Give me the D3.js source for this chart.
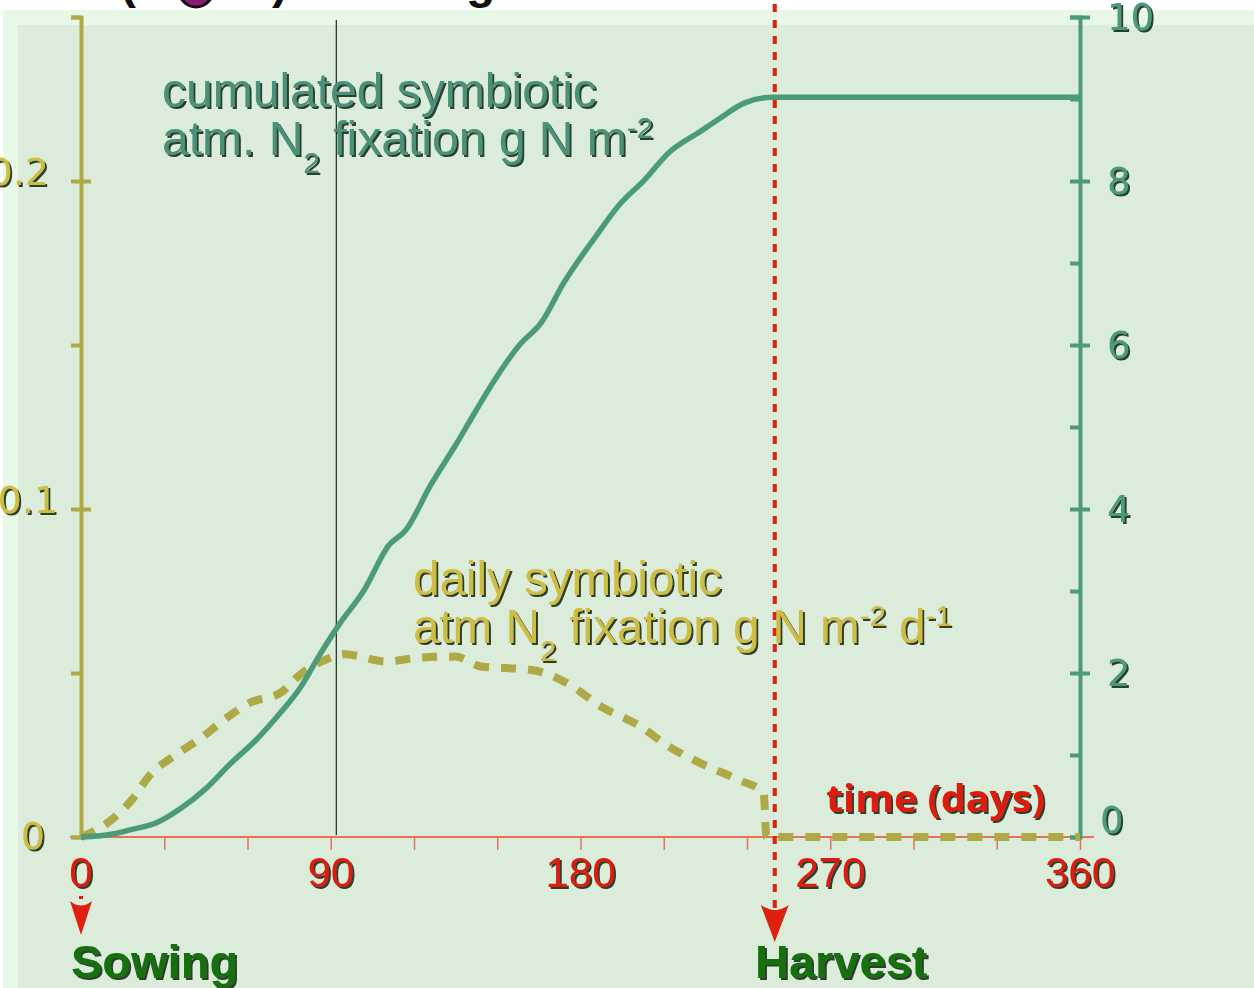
<!DOCTYPE html>
<html>
<head>
<meta charset="utf-8">
<script src="https://d3js.org/d3.v7.min.js"></script>
<style>
  body { margin: 0; background: #fff; }
  svg { display: block; }
</style>
</head>
<body>
<div id="chart-area"></div>
<script>
// cumulated symbiotic N2 fixation (g N m-2), right axis
var cumDays = [0, 12, 18, 27, 36, 45, 54, 63, 72, 79, 86, 93, 102, 111, 117, 126, 135, 142, 149, 158, 166, 174, 185, 194, 203, 212, 223, 230, 239, 249, 360];
var cumValues = [0, 0.04, 0.09, 0.17, 0.35, 0.59, 0.9, 1.18, 1.52, 1.82, 2.22, 2.59, 3.01, 3.56, 3.74, 4.29, 4.78, 5.18, 5.57, 6.0, 6.28, 6.76, 7.3, 7.71, 8.01, 8.35, 8.6, 8.76, 8.95, 9.02, 9.02];

// daily symbiotic N2 fixation (g N m-2 d-1), left axis
var dailyDays = [0, 10, 18, 25, 34, 43, 52, 61, 72, 79, 88, 95, 110, 122, 135, 144, 162, 176, 187, 201, 212, 223, 237, 246, 247, 360];
var dailyValues = [0, 0.0046, 0.011, 0.019, 0.025, 0.030, 0.036, 0.041, 0.044, 0.0495, 0.054, 0.0557, 0.0535, 0.0547, 0.055, 0.052, 0.051, 0.0465, 0.040, 0.034, 0.0275, 0.0226, 0.0174, 0.0135, 0, 0];

var xLabels = [0, 90, 180, 270, 360];
var xMinor = [30, 60, 90, 120, 150, 180, 210, 240, 270, 300, 330, 360];
var leftLabels = [0, 0.1, 0.2];
var leftTicks = [0, 0.05, 0.1, 0.15, 0.2, 0.25];
var rightLabels = [0, 2, 4, 6, 8, 10];
var rightTicks = [0, 1, 2, 3, 4, 5, 6, 7, 8, 9, 10];
var sowingDay = 0, harvestDay = 250, markerDay = 92;

var W = 1254, H = 988;
var svg = d3.select("#chart-area").append("svg")
    .attr("width", W)
    .attr("height", H);

var defs = svg.append("defs");
var f = defs.append("filter").attr("id", "shadow")
    .attr("x", "-10%").attr("y", "-10%").attr("width", "130%").attr("height", "140%");
f.append("feDropShadow")
    .attr("dx", 2).attr("dy", 2).attr("stdDeviation", 0.6)
    .attr("flood-color", "#0c1a0c").attr("flood-opacity", 0.85);

// backgrounds
svg.append("rect").attr("x", 3).attr("y", 10).attr("width", W).attr("height", H)
    .attr("fill", "#e7f8e6");
svg.append("rect").attr("x", 18).attr("y", 25).attr("width", W).attr("height", H)
    .attr("fill", "#dbedda");

// cut-off title at the top (only its lower edge shows)
var title = svg.append("g").attr("font-family", "Liberation Sans, Arial, sans-serif")
    .attr("font-size", 48).attr("font-weight", "bold").attr("fill", "#111");
title.append("text").attr("x", 120).attr("y", -2).text("(");
title.append("text").attr("x", 272).attr("y", -2).text(")");
title.append("text").attr("x", 466).attr("y", -2).text("g");
svg.append("circle").attr("cx", 196).attr("cy", -10).attr("r", 17)
    .attr("fill", "#8a1a78").attr("stroke", "#111").attr("stroke-width", 3);
// keep the panel edge above the title remnants
svg.append("rect").attr("x", 3).attr("y", 10).attr("width", W).attr("height", 15)
    .attr("fill", "#e7f8e6");

var x = d3.scaleLinear().domain([0, 360]).range([81, 1080]);
var yL = d3.scaleLinear().domain([0, 0.25]).range([837, 17]);
var yR = d3.scaleLinear().domain([0, 10]).range([837, 17]);

// thin black vertical marker
svg.append("line")
    .attr("x1", x(markerDay)).attr("x2", x(markerDay))
    .attr("y1", 20).attr("y2", 835)
    .attr("stroke", "#1a2a1a").attr("stroke-width", 1.2);

// x axis
var xAxis = d3.axisBottom(x).tickValues(xMinor).tickSize(12).tickFormat("");
var gx = svg.append("g").attr("transform", "translate(0,838)").call(xAxis);
gx.select(".domain").remove();
gx.selectAll(".tick line").attr("stroke", "#e8705e").attr("stroke-width", 1.5);
svg.append("line")
    .attr("x1", x(-4)).attr("x2", x(365))
    .attr("y1", 837).attr("y2", 837)
    .attr("stroke", "#e8705e").attr("stroke-width", 2);
svg.selectAll(".xlab").data(xLabels).enter().append("text")
    .attr("class", "xlab")
    .attr("x", (d) => x(d))
    .attr("y", 887)
    .attr("text-anchor", "middle")
    .attr("font-family", "Liberation Sans, Arial, sans-serif")
    .attr("font-size", 42)
    .attr("fill", "#dd1a0a")
    .attr("filter", "url(#shadow)")
    .text((d) => d);

// left axis
var leftAxis = d3.axisLeft(yL).tickValues(leftTicks).tickSize(10).tickFormat("");
var gl = svg.append("g").attr("transform", "translate(81,0)").call(leftAxis);
gl.select(".domain").attr("stroke", "#aea846").attr("stroke-width", 4);
gl.selectAll(".tick line").attr("stroke", "#aea846").attr("stroke-width", 4)
    .attr("x2", -10)
    .attr("x1", (d) => leftLabels.indexOf(d) >= 0 && d > 0 ? 10 : 0);
svg.selectAll(".llab").data(leftLabels).enter().append("text")
    .attr("class", "llab")
    .attr("x", (d) => d === 0 ? 45 : (d === 0.2 ? 49 : 58))
    .attr("y", (d) => yL(d) + (d === 0 ? 12 : 4))
    .attr("text-anchor", "end")
    .attr("font-family", "DejaVu Sans, sans-serif")
    .attr("font-size", 38)
    .attr("fill", "#cdbd45")
    .attr("filter", "url(#shadow)")
    .text((d) => d);

// right axis
var rightAxis = d3.axisLeft(yR).tickValues(rightTicks).tickSize(10).tickFormat("");
var gr = svg.append("g").attr("transform", "translate(1080,0)").call(rightAxis);
gr.select(".domain").attr("stroke", "#4b9a7a").attr("stroke-width", 4);
gr.selectAll(".tick line").attr("stroke", "#4b9a7a").attr("stroke-width", 4)
    .attr("x2", -10)
    .attr("x1", (d) => d % 2 === 0 && d > 0 ? 10 : 0);
svg.selectAll(".rlab").data(rightLabels).enter().append("text")
    .attr("class", "rlab")
    .attr("x", (d) => d === 0 ? 1100 : 1107)
    .attr("y", (d) => d === 0 ? yR(d) - 4 : yR(d) + 13)
    .attr("font-family", "DejaVu Sans, sans-serif")
    .attr("font-size", 37)
    .attr("fill", "#4b9a7a")
    .attr("filter", "url(#shadow)")
    .text((d) => d);

// daily dashed line
var dailyLine = d3.line()
    .x((d, i) => x(dailyDays[i]))
    .y((d) => yL(d))
    .curve(d3.curveMonotoneX);
svg.append("path")
    .attr("d", dailyLine(dailyValues))
    .attr("fill", "none")
    .attr("stroke", "#aea846")
    .attr("stroke-width", 8)
    .attr("stroke-dasharray", "15,12");

// cumulative line
var cumLine = d3.line()
    .x((d, i) => x(cumDays[i]))
    .y((d) => yR(d))
    .curve(d3.curveMonotoneX);
svg.append("path")
    .attr("d", cumLine(cumValues))
    .attr("fill", "none")
    .attr("stroke", "#4b9a7a")
    .attr("stroke-width", 5.5);

// harvest dotted line + arrows
var hx = x(harvestDay);
svg.append("line")
    .attr("x1", hx).attr("x2", hx)
    .attr("y1", 4).attr("y2", 910)
    .attr("stroke", "#e0200e").attr("stroke-width", 4)
    .attr("stroke-dasharray", "8,8");
svg.append("path")
    .attr("d", `M${hx - 14},905 Q${hx},915 ${hx + 14},905 L${hx},942 Z`)
    .attr("fill", "#e0200e");
var sx = x(sowingDay);
svg.append("rect").attr("x", sx - 2).attr("y", 896).attr("width", 4).attr("height", 3)
    .attr("fill", "#e0200e");
svg.append("path")
    .attr("d", `M${sx - 11},901 Q${sx},910 ${sx + 11},901 L${sx},935 Z`)
    .attr("fill", "#e0200e");

// texts
var sans = "Liberation Sans, Arial, sans-serif";
function label(xp, yp, color, size, parts) {
  var t = svg.append("text").attr("x", xp).attr("y", yp)
      .attr("font-family", sans).attr("font-size", size)
      .attr("fill", color).attr("filter", "url(#shadow)");
  parts.forEach((p) => {
    var s = t.append("tspan").text(p.t);
    if (p.sub) s.attr("font-size", size * 0.62).attr("dy", 18);
    if (p.sup) s.attr("font-size", size * 0.62).attr("dy", -17);
    if (p.back) s.attr("dy", p.back);
  });
  return t;
}
label(162, 107, "#4b9078", 48, [{t: "cumulated symbiotic"}]);
label(162, 155, "#4b9078", 48, [
  {t: "atm. N"}, {t: "2", sub: true}, {t: " fixation g N m", back: -18},
  {t: "-2", sup: true}
]);
label(413, 595, "#cdbd45", 47.5, [{t: "daily symbiotic"}]);
label(413, 643, "#cdbd45", 47.5, [
  {t: "atm N"}, {t: "2", sub: true}, {t: " fixation g N m", back: -18},
  {t: "-2", sup: true}, {t: " d", back: 17}, {t: "-1", sup: true}
]);

svg.append("text").attr("x", 826).attr("y", 812)
    .attr("font-family", "Open Sans, sans-serif").attr("font-weight", "bold")
    .attr("font-size", 38).attr("fill", "#dd1a0a").attr("filter", "url(#shadow)")
    .attr("textLength", 219).attr("lengthAdjust", "spacingAndGlyphs")
    .text("time (days)");

svg.append("text").attr("x", 71).attr("y", 978)
    .attr("font-family", sans).attr("font-weight", "bold")
    .attr("font-size", 47).attr("fill", "#167010").attr("filter", "url(#shadow)")
    .text("Sowing");
svg.append("text").attr("x", 755).attr("y", 978)
    .attr("font-family", sans).attr("font-weight", "bold")
    .attr("font-size", 47).attr("fill", "#167010").attr("filter", "url(#shadow)")
    .text("Harvest");
</script>
</body>
</html>
